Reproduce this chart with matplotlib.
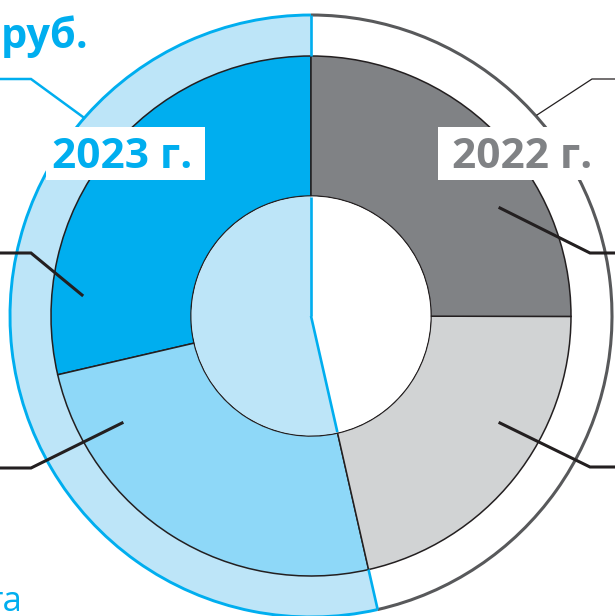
import matplotlib
matplotlib.use('Agg')
import matplotlib.pyplot as plt
from matplotlib.patches import Arc, Rectangle
import numpy as np

# ---- data (shares) ----
years = ['2023 г.', '2022 г.']
parts_2023 = [28.6, 24.9]   # dark blue, medium blue (counter-clockwise from top)
parts_2022 = [21.4, 25.0]   # light grey, dark grey (continuing counter-clockwise)
title_tail = 'руб.'
note_tail = 'та'

# ---- styles ----
BLUE = '#00aeef'
MBLUE = '#8ed8f8'
LBLUE = '#bde5f8'
DGRAY = '#808285'
LGRAY = '#d1d3d4'
RINGGRAY = '#58595b'
INK = '#231f20'

R_OUT, R_PIE, R_HOLE = 301, 260, 120

fig = plt.figure(figsize=(6.15, 6.16), dpi=100)
ax = fig.add_axes([0, 0, 1, 1])

t23, t22 = sum(parts_2023), sum(parts_2022)
total = t23 + t22
ang23 = 360 * t23 / total

# outer ring
ax.pie([t23, t22], radius=R_OUT, startangle=90, counterclock=True,
       colors=[LBLUE, 'white'], wedgeprops=dict(width=R_OUT - R_PIE, linewidth=0))
# main pie ring
ax.pie(parts_2023 + parts_2022, radius=R_PIE, startangle=90, counterclock=True,
       colors=[BLUE, MBLUE, LGRAY, DGRAY],
       wedgeprops=dict(width=R_PIE - R_HOLE, edgecolor=INK, linewidth=1.1))
# centre disc
ax.pie([t23, t22], radius=R_HOLE - 0.5, startangle=90, counterclock=True,
       colors=[LBLUE, 'white'], wedgeprops=dict(linewidth=0))

# outer arcs
ax.add_patch(Arc((0, 0), 2 * R_OUT, 2 * R_OUT, theta1=90, theta2=90 + ang23,
                 color=BLUE, lw=2.1, zorder=3))
ax.add_patch(Arc((0, 0), 2 * R_OUT, 2 * R_OUT, theta1=90 + ang23, theta2=450,
                 color=RINGGRAY, lw=2.2, zorder=3))

# blue radial boundaries of the 2023 share (ring and centre)
for a in (90, 90 + ang23):
    c, s = np.cos(np.radians(a)), np.sin(np.radians(a))
    ax.plot([R_PIE * c, R_OUT * c], [R_PIE * s, R_OUT * s], color=BLUE, lw=1.9, zorder=4,
            solid_capstyle='butt')
    ax.plot([0, (R_HOLE - 1) * c], [0, (R_HOLE - 1) * s], color=BLUE, lw=1.9, zorder=4,
            solid_capstyle='butt')

# leader lines
leaders = [
    ([-229, -280, -320], [21, 63, 63], INK, 2.2),
    ([-189, -280, -320], [-107, -152, -152], INK, 2.2),
    ([189, 279, 320], [108, 63, 63], INK, 2.2),
    ([189, 279, 320], [-107, -151, -151], INK, 2.2),
    ([-228, -280, -320], [199, 237, 237], BLUE, 1.8),
    ([226, 281, 320], [201, 237, 237], INK, 0.9),
]
for xs, ys, col, lw in leaders:
    ax.plot(xs, ys, color=col, lw=lw, zorder=5, solid_joinstyle='miter')

# year labels in white boxes
ax.add_patch(Rectangle((-265, 136), 159, 53, facecolor='white', edgecolor='none', zorder=6))
ax.add_patch(Rectangle((127, 136), 175, 53, facecolor='white', edgecolor='none', zorder=6))
ax.text(-189, 158, years[0], color=BLUE, fontsize=30.5, fontweight='bold',
        family='Open Sans', ha='center', va='center', zorder=7)
ax.text(211, 158, years[1], color=DGRAY, fontsize=30.5, fontweight='bold',
        family='Open Sans', ha='center', va='center', zorder=7)

# cropped title / note text
ax.text(-223, 268, title_tail, color=BLUE, fontsize=30, fontweight='bold',
        family='Open Sans', ha='right', va='baseline', zorder=7)
ax.text(-289, -295, note_tail, color=BLUE, fontsize=25,
        family='Open Sans', ha='right', va='baseline', zorder=7)

ax.set_aspect('equal')
ax.set_xlim(-311, 304)
ax.set_ylim(-300, 316)
ax.axis('off')

fig.savefig('out.png', dpi=100)
